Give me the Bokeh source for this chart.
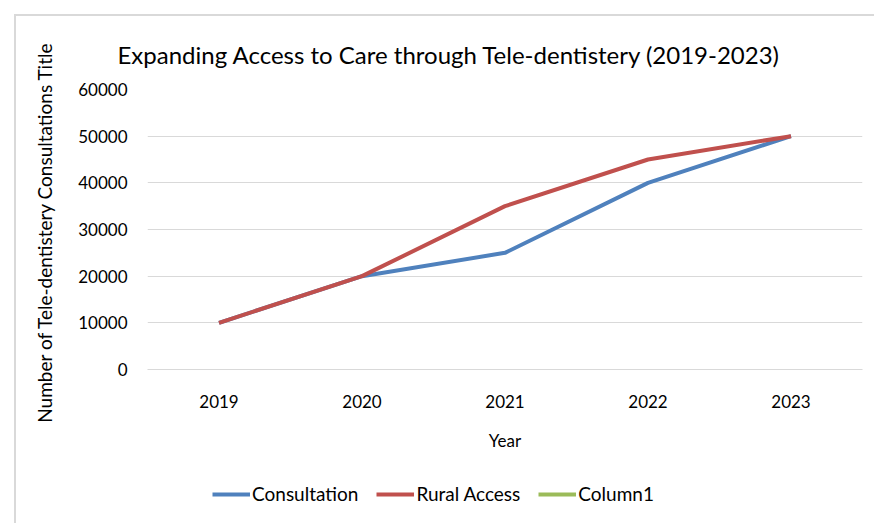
from bokeh.plotting import figure
from bokeh.models import Legend, LegendItem, FixedTicker, Range1d
from bokeh.layouts import column
from bokeh.embed import file_html
from bokeh.resources import INLINE

nan = float("nan")
years = ["2019", "2020", "2021", "2022", "2023"]
consultation = [10000, 20000, 25000, 40000, 50000]
rural_access = [10000, 20000, 35000, 45000, 50000]
column1 = [nan, nan, nan, nan, nan]  # empty series, legend only
y_ticks = [0, 10000, 20000, 30000, 40000, 50000, 60000]

FONT = "Lato"
BLUE, RED, GREEN = "#4f81bd", "#c0504d", "#9bbb59"

p = figure(x_range=years, y_range=Range1d(0, 60000), width=858, height=461,
           output_backend="svg", toolbar_location=None,
           min_border_left=131, min_border_right=12, min_border_top=73, min_border_bottom=108)

p.title.text = "Expanding Access to Care through Tele-dentistery (2019-2023)"
p.title.text_font = FONT
p.title.text_font_size = "24px"
p.title.text_font_style = "normal"
p.title.text_color = "#000000"
p.title.align = "left"
p.title.offset = -30
p.title.standoff = 42

p.outline_line_color = None
p.background_fill_color = "white"
p.border_fill_color = "white"

p.line(years, consultation, line_color=BLUE, line_width=4)
p.line(years, rural_access, line_color=RED, line_width=4)
p.line(years, column1, line_color=GREEN, line_width=4)

p.yaxis.ticker = FixedTicker(ticks=y_ticks)
p.yaxis.axis_line_color = None
p.yaxis.major_tick_line_color = None
p.yaxis.minor_tick_line_color = None
p.yaxis.major_label_standoff = 14
p.yaxis.major_label_text_font = FONT
p.yaxis.major_label_text_font_size = "17px"
p.yaxis.major_label_text_color = "#000000"
p.yaxis.axis_label = "Number of Tele-dentistery Consultations  Title"
p.yaxis.axis_label_text_font = FONT
p.yaxis.axis_label_text_font_size = "19px"
p.yaxis.axis_label_text_font_style = "normal"
p.yaxis.axis_label_text_color = "#000000"
p.yaxis.axis_label_standoff = 19

p.xaxis.axis_line_color = "#d9d9d9"
p.xaxis.major_tick_line_color = None
p.xaxis.minor_tick_line_color = None
p.xaxis.major_label_standoff = 19
p.xaxis.major_label_text_font = FONT
p.xaxis.major_label_text_font_size = "17px"
p.xaxis.major_label_text_color = "#000000"
p.xaxis.axis_label = "Year"
p.xaxis.axis_label_text_font = FONT
p.xaxis.axis_label_text_font_size = "17px"
p.xaxis.axis_label_text_font_style = "normal"
p.xaxis.axis_label_text_color = "#000000"
p.xaxis.axis_label_standoff = 19

p.xgrid.grid_line_color = None
p.ygrid.grid_line_color = "#d9d9d9"
p.ygrid.grid_line_width = 1
p.x_range.range_padding = 0

# legend strip (its lines lie outside its own view; only the legend shows)
lf = figure(x_range=years, y_range=Range1d(-2, -1), width=858, height=46,
            output_backend="svg", toolbar_location=None, min_border=0)
lf.axis.visible = False
lf.grid.grid_line_color = None
lf.outline_line_color = None
lf.border_fill_color = "white"
g1 = lf.line(years, consultation, line_color=BLUE, line_width=4)
g2 = lf.line(years, rural_access, line_color=RED, line_width=4)
g3 = lf.line(years, column1, line_color=GREEN, line_width=4)

legend = Legend(items=[LegendItem(label="Consultation", renderers=[g1]),
                       LegendItem(label="Rural Access", renderers=[g2]),
                       LegendItem(label="Column1", renderers=[g3])],
                orientation="horizontal", location=(65, 18),
                glyph_width=38, glyph_height=16, label_standoff=2, spacing=18,
                padding=5, margin=0, border_line_color=None, background_fill_alpha=0,
                label_text_font=FONT, label_text_font_size="19px", label_text_color="#000000")
lf.add_layout(legend, "center")

layout = column(p, lf, spacing=0)
layout.margin = (14, 0, 0, 14)
layout.styles = {"border-top": "2px solid #d9d9d9", "border-left": "2px solid #d9d9d9"}

open("out.html", "w").write(file_html(layout, INLINE))
